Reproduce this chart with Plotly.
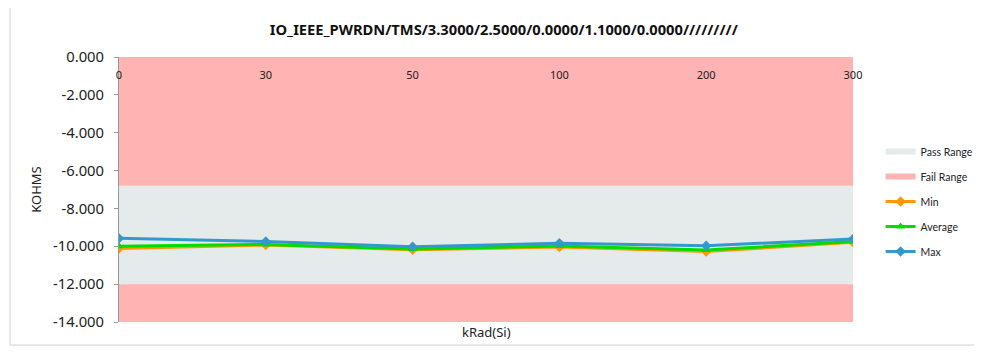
import plotly.graph_objects as go

categories = ["0", "30", "50", "100", "200", "300"]
min_vals = [-10.12, -9.93, -10.18, -10.04, -10.28, -9.79]
avg_vals = [-10.0, -9.9, -10.14, -9.98, -10.2, -9.75]
max_vals = [-9.58, -9.75, -10.02, -9.84, -9.97, -9.61]

pass_upper = -6.8
pass_lower = -12.0
y_top = 0.0
y_bottom = -14.0

y_tickvals = [0, -2, -4, -6, -8, -10, -12, -14]
y_ticktext = ["0.000", "-2.000", "-4.000", "-6.000", "-8.000", "-10.000", "-12.000", "-14.000"]

title = "IO_IEEE_PWRDN/TMS/3.3000/2.5000/0.0000/1.1000/0.0000/////////"
FONT = "Noto Sans"
first, last = categories[0], categories[-1]

fig = go.Figure()
fig.add_trace(go.Scatter(
    x=[first, last, last, first, first],
    y=[pass_upper, pass_upper, pass_lower, pass_lower, pass_upper],
    fill="toself", mode="none", fillcolor="#E5EAEA", name="Pass Range",
    legendgroup="a", hoverinfo="skip"))
fig.add_trace(go.Scatter(
    x=[first, last, last, first, first, None, first, last, last, first, first],
    y=[y_top, y_top, pass_upper, pass_upper, y_top, None,
       pass_lower, pass_lower, y_bottom, y_bottom, pass_lower],
    fill="toself", mode="none", fillcolor="#FFB3B3", name="Fail Range",
    legendgroup="b", hoverinfo="skip"))
fig.add_trace(go.Scatter(x=categories, y=min_vals, name="Min", mode="lines+markers",
                         line=dict(color="#FF9900", width=3),
                         marker=dict(symbol="diamond", size=8, color="#FF9900"),
                         legendgroup="c"))
fig.add_trace(go.Scatter(x=categories, y=avg_vals, name="Average", mode="lines+markers",
                         line=dict(color="#00DD00", width=3),
                         marker=dict(symbol="triangle-up", size=8, color="#00DD00"),
                         legendgroup="d"))
fig.add_trace(go.Scatter(x=categories, y=max_vals, name="Max", mode="lines+markers",
                         line=dict(color="#3399CC", width=3),
                         marker=dict(symbol="diamond", size=8, color="#3399CC"),
                         legendgroup="e"))

fig.update_layout(
    width=974, height=352,
    margin=dict(l=111, r=129, t=49, b=38, autoexpand=False),
    paper_bgcolor="white", plot_bgcolor="white",
    font=dict(family=FONT, size=12, color="#222222"),
    title=dict(text="<b>" + title + "</b>", x=0.509, xanchor="center", y=0.9375, yanchor="middle",
               font=dict(family=FONT, size=14.7, color="#111111")),
    showlegend=True,
    legend=dict(x=1.0376, y=0.455, xanchor="left", yanchor="middle",
                traceorder="grouped", tracegroupgap=6, itemwidth=30,
                font=dict(family="Lato", size=10.5, color="#222222"),
                bgcolor="rgba(0,0,0,0)"),
    xaxis=dict(type="category", categoryorder="array", categoryarray=categories,
               range=[0, 5], side="bottom", anchor="free", position=1.0,
               showgrid=False, zeroline=False, showline=False,
               ticks="outside", ticklen=8, tickcolor="rgba(0,0,0,0)",
               tickfont=dict(family=FONT, size=11, color="#222222"), automargin=False),
    yaxis=dict(range=[y_bottom, y_top], tickvals=y_tickvals, ticktext=y_ticktext,
               showgrid=False, zeroline=False, showline=True, linecolor="#999999",
               linewidth=1, ticks="outside", ticklen=4, tickcolor="#999999",
               ticklabelstandoff=7,
               tickfont=dict(family=FONT, size=14.8, color="#222222"), automargin=False,
               title=dict(text="KOHMS", font=dict(family=FONT, size=13), standoff=8)),
    annotations=[dict(text="kRad(Si)", xref="paper", yref="paper", x=0.5, y=0,
                      xanchor="center", yanchor="top", yshift=1, showarrow=False,
                      font=dict(family=FONT, size=13, color="#222222"))],
    shapes=[dict(type="rect", xref="paper", yref="paper", x0=-0.1485, x1=1.166, y0=-0.087, y1=1.2075,
                 line=dict(color="#D0D0D0", width=1), fillcolor="rgba(0,0,0,0)", layer="below")],
)

fig.write_html("out.html")
